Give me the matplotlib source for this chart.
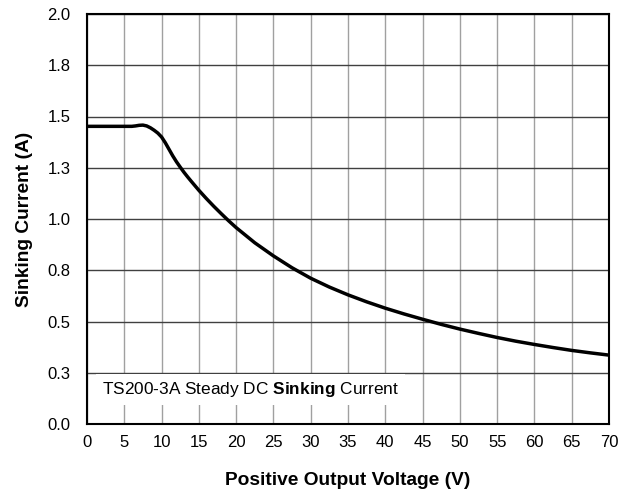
import matplotlib
matplotlib.use("Agg")
import matplotlib.pyplot as plt

plt.rcParams['font.family'] = ['Liberation Sans', 'DejaVu Sans']
plt.rcParams['mathtext.fontset'] = 'custom'
plt.rcParams['mathtext.rm'] = 'Liberation Sans'
plt.rcParams['mathtext.bf'] = 'Liberation Sans:bold'

voltage = [0, 2, 4, 6, 6.5, 7, 7.5, 8, 8.5, 9, 9.5, 10, 10.5, 11, 11.5, 12, 12.5, 13,
           13.5, 14, 15, 16, 17, 18, 19, 20, 22.5, 25, 27.5, 30, 32.5, 35, 37.5, 40,
           42.5, 45, 47.5, 50, 52.5, 55, 57.5, 60, 62.5, 65, 67.5, 70]
current = [1.452, 1.452, 1.452, 1.452, 1.454, 1.457, 1.458, 1.454, 1.445, 1.433, 1.419,
           1.400, 1.372, 1.340, 1.308, 1.279, 1.253, 1.228, 1.205, 1.183, 1.140, 1.100,
           1.062, 1.026, 0.991, 0.958, 0.884, 0.820, 0.762, 0.711, 0.668, 0.630, 0.596,
           0.565, 0.537, 0.511, 0.486, 0.463, 0.442, 0.422, 0.404, 0.388, 0.373, 0.359,
           0.347, 0.336]

x_ticks = list(range(0, 75, 5))
y_ticks = [0.0, 0.25, 0.5, 0.75, 1.0, 1.25, 1.5, 1.75, 2.0]
y_tick_labels = ["0.0", "0.3", "0.5", "0.8", "1.0", "1.3", "1.5", "1.8", "2.0"]

fig = plt.figure(figsize=(6.35, 4.95), dpi=100)
ax = fig.add_axes([87/635, 1 - 424/495, (609-87)/635, (424-14)/495])

ax.plot(voltage, current, color='black', linewidth=2.5, zorder=5,
        solid_joinstyle='round', solid_capstyle='butt')

ax.set_xlim(0, 70)
ax.set_ylim(0, 2.0)
ax.set_xticks(x_ticks)
ax.set_yticks(y_ticks)
ax.set_yticklabels(y_tick_labels)
ax.tick_params(axis='both', length=0, labelsize=12)
ax.tick_params(axis='y', pad=12)
ax.tick_params(axis='x', pad=8)

ax.grid(axis='x', color='#a0a0a0', linewidth=1.0, zorder=1)
ax.grid(axis='y', color='#404040', linewidth=1.0, zorder=1)
ax.set_axisbelow(True)
for s in ax.spines.values():
    s.set_linewidth(1.5)
    s.set_color('black')

ax.set_xlabel("Positive Output Voltage (V)", fontsize=13.8, fontweight='bold', labelpad=16)
ax.set_ylabel("Sinking Current (A)", fontsize=13.8, fontweight='bold', labelpad=10)

ax.text(2.0, 0.166, r"TS200-3A Steady DC $\bf{Sinking}$ Current", fontsize=12.4,
        va='center', ha='left', zorder=4,
        bbox=dict(boxstyle='square,pad=0.35', facecolor='white', edgecolor='none'))

fig.savefig("out.png", dpi=100)
